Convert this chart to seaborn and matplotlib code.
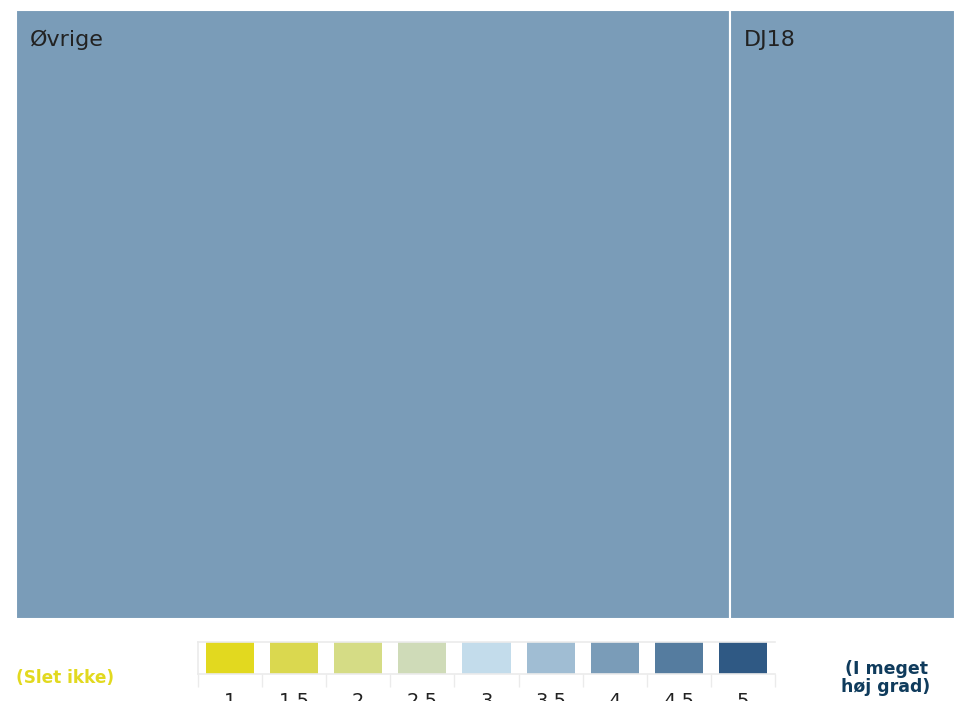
import matplotlib
matplotlib.use("Agg")
import matplotlib.pyplot as plt
import seaborn as sns
import numpy as np

# treemap data
groups = ["Øvrige", "DJ18"]
sizes = [76, 24]
scores = [4, 4]

# colour scale for the legend
scale_labels = ["1", "1.5", "2", "2.5", "3", "3.5", "4", "4.5", "5"]
scale_values = [1, 1.5, 2, 2.5, 3, 3.5, 4, 4.5, 5]
scale_colors = ["#e2d91f", "#dad84f", "#d5dc85", "#cfdbb8", "#c3dceb",
                "#a0bdd3", "#7a9cb8", "#557c9f", "#2f5984"]

sns.set_theme(style="white")
plt.rcParams["font.family"] = ["DejaVu Sans"]

W, H = 955, 701
fig = plt.figure(figsize=(W / 100, H / 100), dpi=100)
fig.patch.set_facecolor("white")

def px_axes(x0, y0, x1, y1):
    return fig.add_axes([x0 / W, 1 - y1 / H, (x1 - x0) / W, (y1 - y0) / H])

# treemap drawn as one stacked horizontal bar
ax = px_axes(16, 10, 955, 619)
score_color = dict(zip(scale_values, scale_colors))
left = 0
for name, size, score in zip(groups, sizes, scores):
    ax.barh(0, size, left=left, height=1, color=score_color[score],
            edgecolor="white", linewidth=1.5)
    ax.text(left + 1.5, 0.5 - 30 / 609, name, fontsize=16, color="#222222",
            ha="left", va="center")
    left += size
ax.set_xlim(0, sum(sizes))
ax.set_ylim(-0.5, 0.5)
ax.axis("off")

# legend colour bar
lax = px_axes(198, 642, 775, 674)
xs = np.arange(len(scale_values))
sns.barplot(x=xs, y=[1] * len(xs), palette=scale_colors, hue=xs,
            legend=False, width=0.75, ax=lax, saturation=1, linewidth=0)
lax.set_xlim(-0.5, len(xs) - 0.5)
lax.set_ylim(0, 1)
lax.set_yticks([])
lax.set_ylabel("")
lax.set_xticks(xs)
lax.set_xticklabels(scale_labels, fontsize=14, color="#222222")
lax.set_xticks(np.arange(len(xs) + 1) - 0.5, minor=True)
lax.tick_params(axis="x", which="major", length=0, pad=13)
lax.tick_params(axis="x", which="minor", length=9, width=1, color="#ebebeb",
                bottom=True)
for side in ["top", "bottom", "left"]:
    lax.spines[side].set_visible(True)
    lax.spines[side].set_color("#ebebeb")
    lax.spines[side].set_linewidth(1.2)
lax.spines["right"].set_visible(False)

fig.text(16 / W, 1 - 678 / H, "(Slet ikke)", fontsize=12.2, fontweight="bold",
         color="#e2d91f", ha="left", va="center")
fig.text(886 / W, 1 - 678 / H, "(I meget\nhøj grad)", fontsize=12.5,
         fontweight="bold", color="#0f3b5c", ha="center", va="center",
         linespacing=1.0)

fig.savefig("out.png", dpi=100)
